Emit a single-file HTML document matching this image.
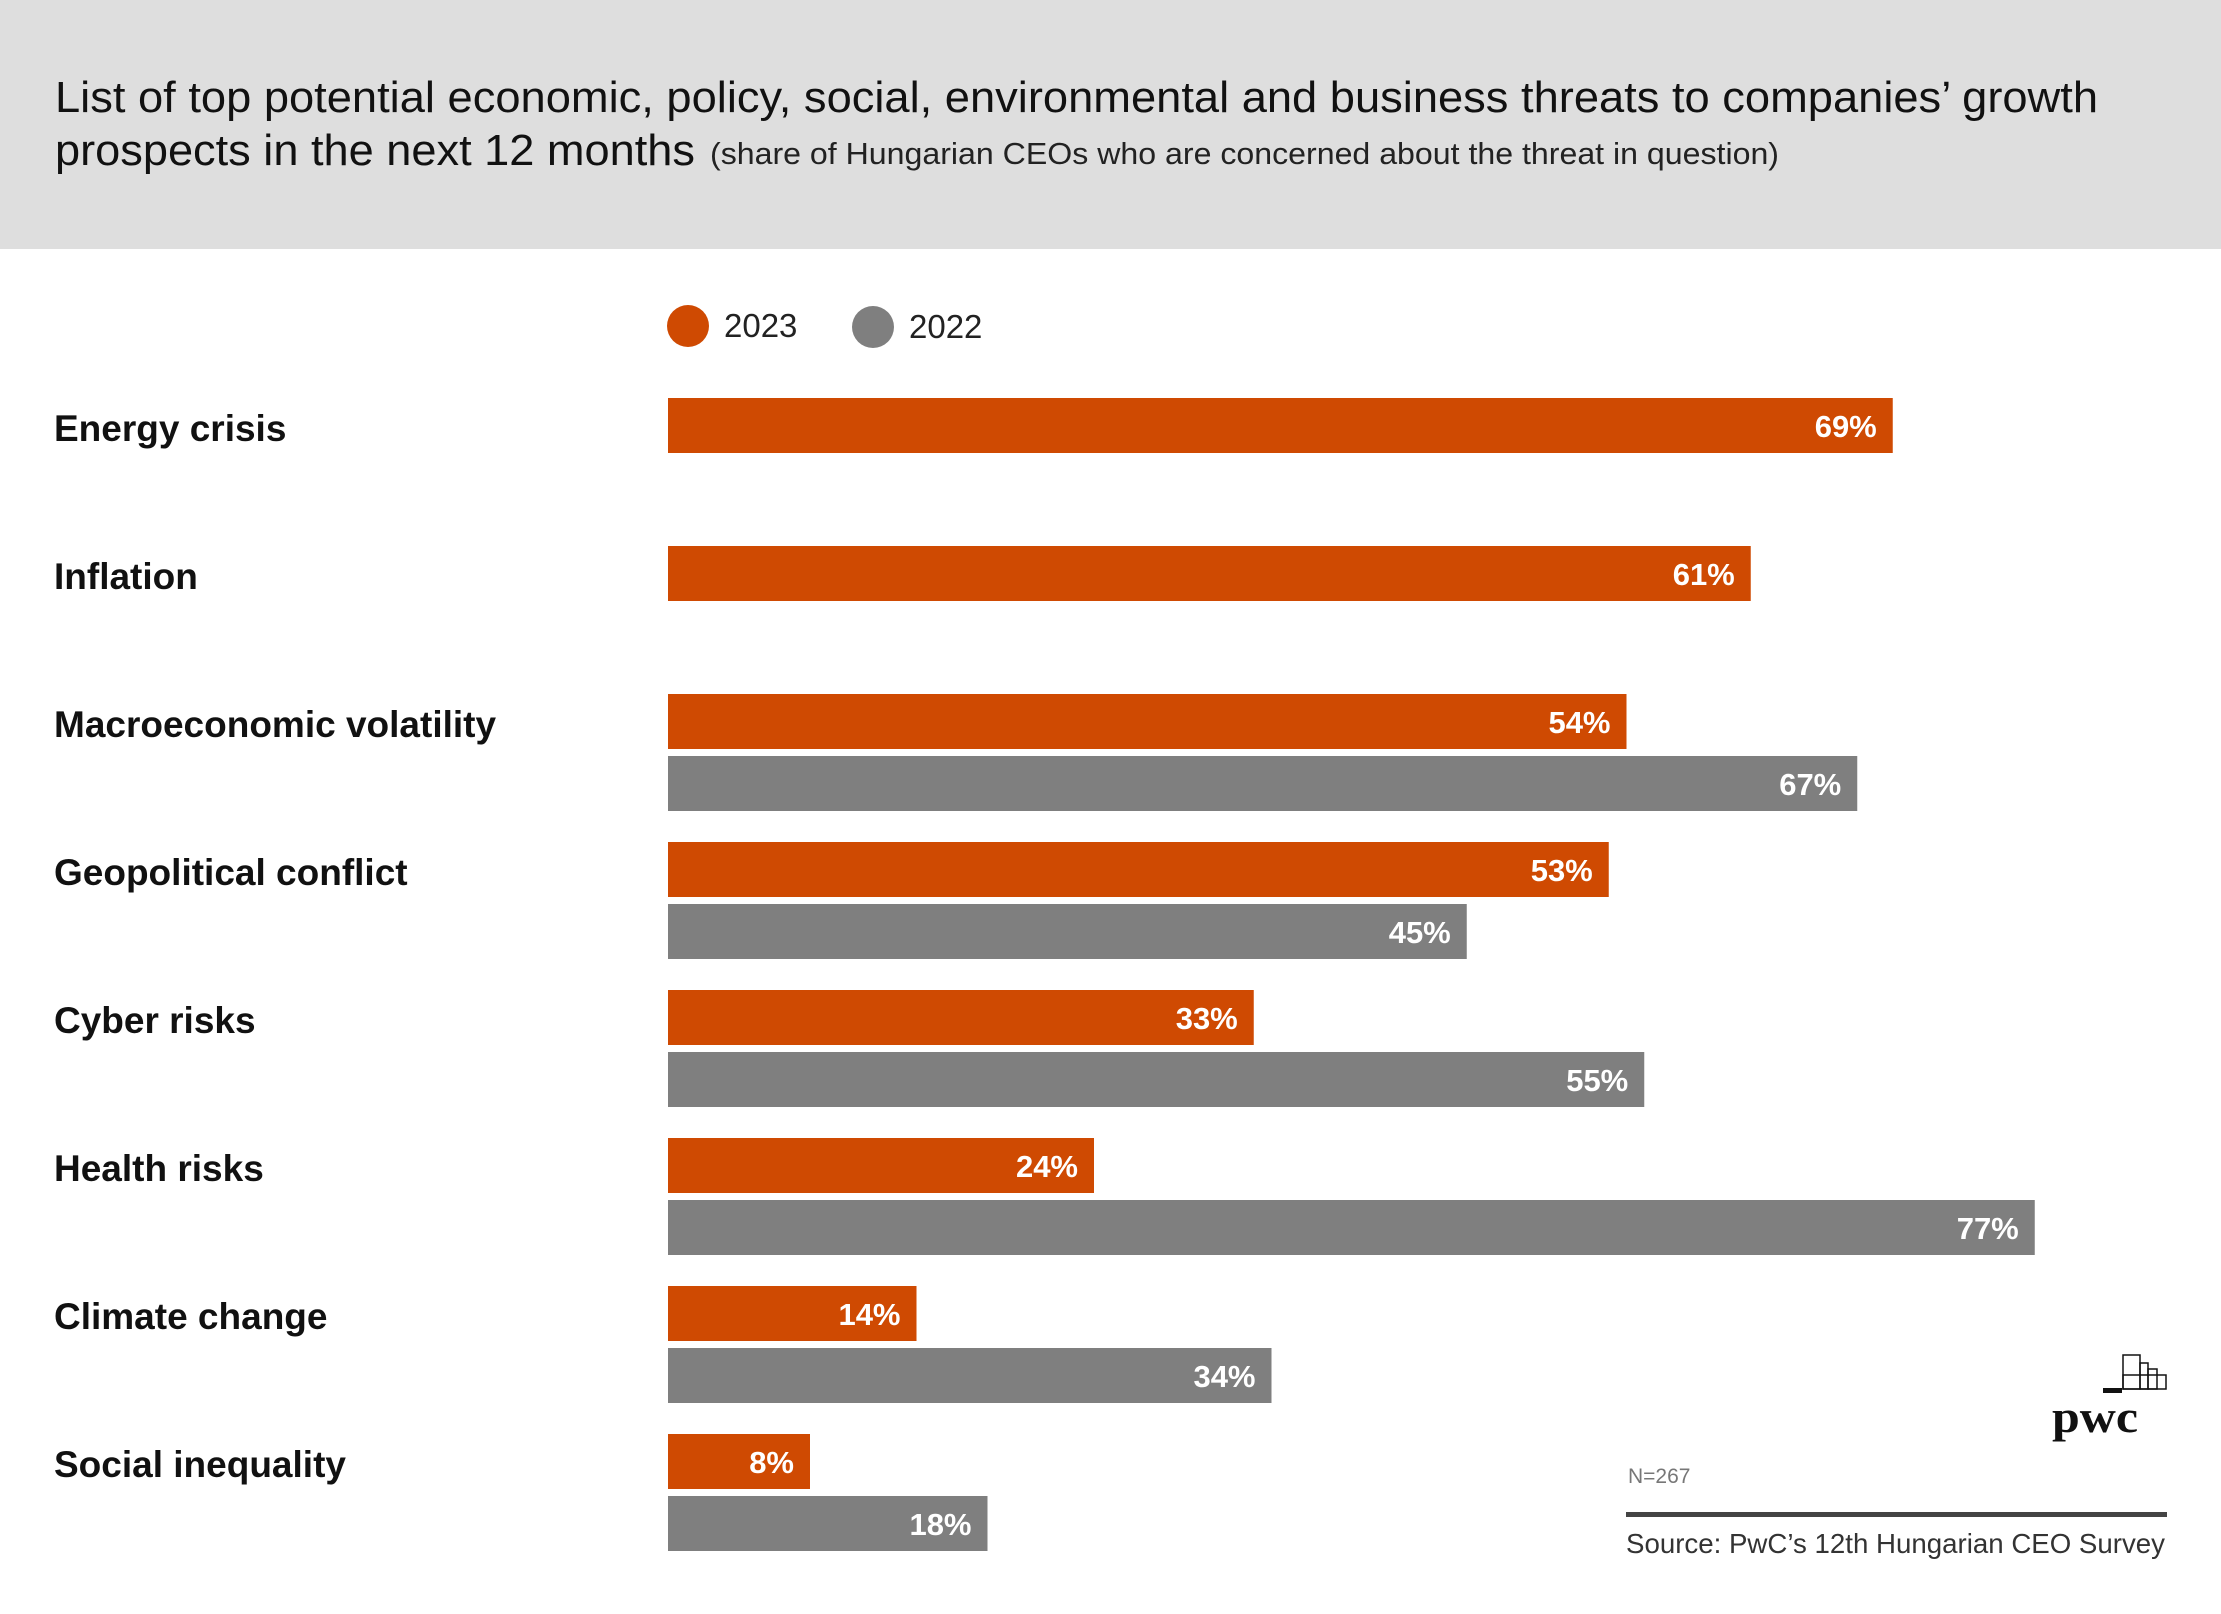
<!DOCTYPE html>
<html><head><meta charset="utf-8"><style>
html,body{margin:0;padding:0;background:#fff;}
svg{display:block;font-family:"Liberation Sans",Arial,sans-serif;}
</style></head><body>
<svg id="chart" width="2221" height="1614" viewBox="0 0 2221 1614" xmlns="http://www.w3.org/2000/svg">
<rect x="0" y="0" width="2221" height="249" fill="#dedede"/>
<text x="55" y="112" font-size="44" fill="#111" textLength="2043" lengthAdjust="spacingAndGlyphs">List of top potential economic, policy, social, environmental and business threats to companies’ growth</text>
<text x="55" y="165" font-size="44" fill="#111" textLength="640" lengthAdjust="spacingAndGlyphs">prospects in the next 12 months</text>
<text x="710" y="164" font-size="31" fill="#222" textLength="1069" lengthAdjust="spacingAndGlyphs">(share of Hungarian CEOs who are concerned about the threat in question)</text>
<g>
<circle cx="688" cy="326" r="21" fill="#cf4a02"/>
<text x="724" y="337" font-size="33" fill="#222">2023</text>
<circle cx="873" cy="327" r="21" fill="#7f7f7f"/>
<text x="909" y="338" font-size="33" fill="#222">2022</text>
</g>
<g id="bars"></g>
<text x="1628" y="1483" font-size="21" fill="#777">N=267</text>
<rect x="1626" y="1512" width="541" height="5" fill="#444"/>
<text x="1626" y="1553" font-size="28" fill="#333" textLength="539" lengthAdjust="spacingAndGlyphs">Source: PwC’s 12th Hungarian CEO Survey</text>
<g fill="none" stroke="#111" stroke-width="1.5">
<rect x="2123" y="1355" width="17" height="34"/><rect x="2140" y="1363" width="8" height="26"/><rect x="2148" y="1369" width="9" height="20"/><rect x="2123" y="1375" width="43" height="14"/>
<rect x="2103" y="1388" width="19" height="5" fill="#111" stroke="none"/>
<text x="2052" y="1432" font-family="Liberation Serif,serif" font-weight="bold" font-size="46" fill="#111" stroke="none" textLength="86" lengthAdjust="spacingAndGlyphs">pwc</text>
</g>
</svg>
<script>
const categories = ["Energy crisis","Inflation","Macroeconomic volatility","Geopolitical conflict","Cyber risks","Health risks","Climate change","Social inequality"];
const values2023 = [69,61,54,53,33,24,14,8];
const values2022 = [null,null,67,45,55,77,34,18];
const NS="http://www.w3.org/2000/svg";
const g=document.getElementById('bars');
const x0=668, perPct=17.75, rowTop=398, rowStep=148, barH=55, gap=62;
function xs(v){return v*perPct;}
function ys(i){return rowTop+i*rowStep;}
function mk(tag,attrs){const e=document.createElementNS(NS,tag);for(const k in attrs)e.setAttribute(k,attrs[k]);return e;}
function slug(s){return s.toLowerCase().replace(/[^a-z0-9]+/g,'-');}
categories.forEach((c,i)=>{
  const y=ys(i);
  const lab=mk('text',{x:54,y:y+43,'font-size':37,fill:'#111'});
  
  
  lab.setAttribute('font-weight','bold');
  lab.textContent=c;g.appendChild(lab);
  [[values2023[i],'#cf4a02',0,'2023'],[values2022[i],'#7f7f7f',gap,'2022']].forEach(([v,col,off,yr])=>{
    if(v==null)return;
    const w=xs(v);
    const r=mk('rect',{x:x0,y:y+off,width:w,height:barH,fill:col});
    
    
    g.appendChild(r);
    const t=mk('text',{x:x0+w-16,y:y+off+39,'font-size':31,'font-weight':'bold',fill:'#fff','text-anchor':'end'});
    
    
    t.textContent=v+'%';g.appendChild(t);
  });
});
</script>
</body></html>
